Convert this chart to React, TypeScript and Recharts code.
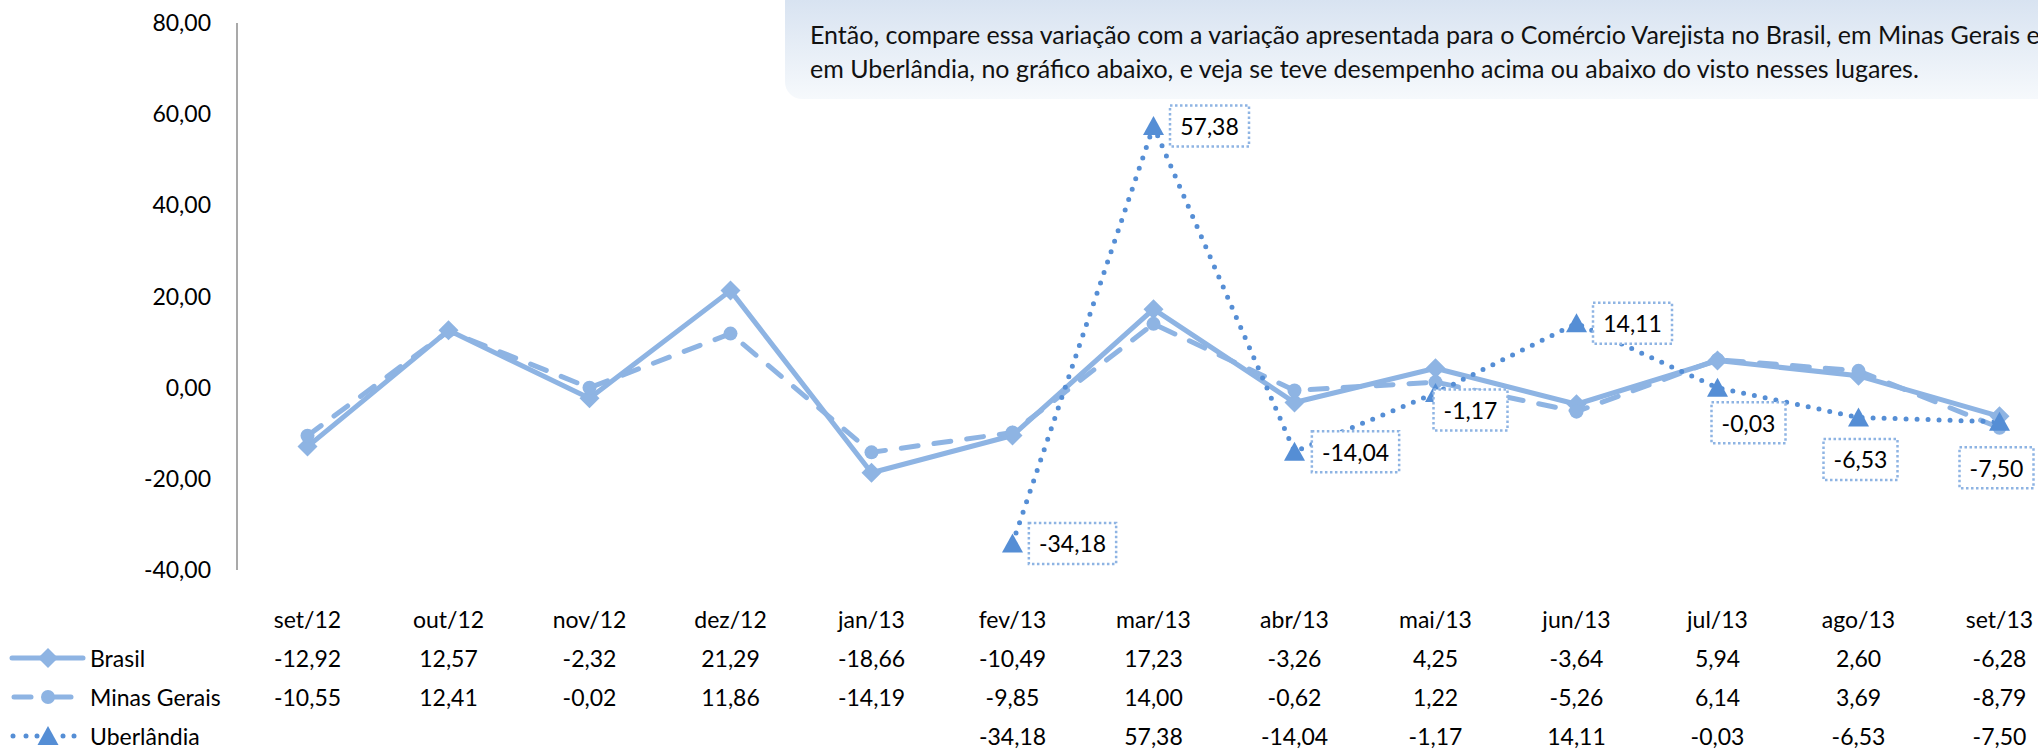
import React from 'react'
import { LineChart, Line, XAxis, YAxis, Legend, LabelList } from 'recharts'

const MONTHS = ['set/12', 'out/12', 'nov/12', 'dez/12', 'jan/13', 'fev/13', 'mar/13', 'abr/13', 'mai/13', 'jun/13', 'jul/13', 'ago/13', 'set/13']
const BRASIL = [-12.92, 12.57, -2.32, 21.29, -18.66, -10.49, 17.23, -3.26, 4.25, -3.64, 5.94, 2.6, -6.28]
const MINAS = [-10.55, 12.41, -0.02, 11.86, -14.19, -9.85, 14.0, -0.62, 1.22, -5.26, 6.14, 3.69, -8.79]
const UBERLANDIA = [null, null, null, null, null, -34.18, 57.38, -14.04, -1.17, 14.11, -0.03, -6.53, -7.5]
const Y_TICKS = [-40, -20, 0, 20, 40, 60, 80]

const NOTE = [
  'Então, compare essa variação com a variação apresentada para o Comércio Varejista no Brasil, em Minas Gerais e',
  'em Uberlândia, no gráfico abaixo, e veja se teve desempenho acima ou abaixo do visto nesses lugares.',
]

// where each Uberlândia label box sits, relative to its point (box centre)
const LABEL_OFFSETS: Record<number, [number, number]> = {
  5: [60, 0], 6: [56, 0], 7: [61, 0], 8: [35, 17], 9: [56, 0], 10: [31, 35], 11: [2, 42], 12: [-3, 46],
}

const LIGHT = '#8EB4E3'
const DARK = '#558ED5'
const FONT = 'Lato, "Open Sans", sans-serif'

const fmt = (v: number | null) => (v == null ? '' : v.toFixed(2).replace('.', ','))

const rows = MONTHS.map((m, i) => ({ month: m, brasil: BRASIL[i], minas: MINAS[i], uberlandia: UBERLANDIA[i] }))

const Diamond = (p: any) => {
  if (p.cx == null || p.cy == null || p.value == null) return <g key={p.key} />
  const { cx, cy } = p
  return <path key={p.key} d={`M${cx},${cy - 10} L${cx + 10},${cy} L${cx},${cy + 10} L${cx - 10},${cy} Z`} fill={LIGHT} />
}
const Circle = (p: any) => {
  if (p.cx == null || p.cy == null || p.value == null) return <g key={p.key} />
  return <circle key={p.key} cx={p.cx} cy={p.cy} r={7} fill={LIGHT} />
}
const Triangle = (p: any) => {
  if (p.cx == null || p.cy == null || p.value == null) return <g key={p.key} />
  const { cx, cy } = p
  return <path key={p.key} d={`M${cx},${cy - 10} L${cx + 10.5},${cy + 9} L${cx - 10.5},${cy + 9} Z`} fill={DARK} />
}

const textW = (s: string) => {
  let w = 0
  for (const c of s) w += c === ',' ? 5.8 : c === '-' ? 8.3 : 13.3
  return w
}

const BoxLabel = (p: any) => {
  const { x, y, value, index } = p
  if (value == null || x == null || y == null) return null
  const [dx, dy] = LABEL_OFFSETS[index] ?? [55, 0]
  const s = fmt(value)
  const w = textW(s) + 20
  const cx = x + dx
  const cy = y + dy
  return (
    <g>
      <rect x={cx - w / 2} y={cy - 20.5} width={w} height={41} fill="#fff" stroke={LIGHT} strokeWidth={2.5} strokeDasharray="2.5 2.5" />
      <text x={cx} y={cy} textAnchor="middle" dominantBaseline="central" fontSize={23} fontFamily={FONT} fill="#000">{s}</text>
    </g>
  )
}

const TableTick = (p: any) => {
  const { x, y, payload } = p
  const i = MONTHS.indexOf(payload.value)
  const t = (dy: number, s: string) => (
    <text x={x} y={y + dy} textAnchor="middle" dominantBaseline="central" fontSize={23} fontFamily={FONT} fill="#000">{s}</text>
  )
  return (
    <g>
      {t(49, MONTHS[i])}
      {t(88, fmt(BRASIL[i]))}
      {t(127, fmt(MINAS[i]))}
      {UBERLANDIA[i] != null && t(166, fmt(UBERLANDIA[i]))}
    </g>
  )
}

function LegendKeys() {
  const txt = (y: number, s: string) => (
    <text x={90} y={y} dominantBaseline="central" fontSize={23} fontFamily={FONT} fill="#000">{s}</text>
  )
  return (
    <svg width={240} height={150}>
      {/* Brasil */}
      <line x1={12} x2={83} y1={58} y2={58} stroke={LIGHT} strokeWidth={5} strokeLinecap="round" />
      <path d="M48,48 L58,58 L48,68 L38,58 Z" fill={LIGHT} />
      {txt(58, 'Brasil')}
      {/* Minas Gerais */}
      <line x1={14} x2={31} y1={97} y2={97} stroke={LIGHT} strokeWidth={5} strokeLinecap="round" />
      <line x1={55} x2={71} y1={97} y2={97} stroke={LIGHT} strokeWidth={5} strokeLinecap="round" />
      <circle cx={48} cy={97} r={7} fill={LIGHT} />
      {txt(97, 'Minas Gerais')}
      {/* Uberlândia */}
      {[13, 26, 37, 63, 74].map(cx => <circle key={cx} cx={cx} cy={136} r={2.5} fill={DARK} />)}
      <path d="M48,126 L58.5,145 L37.5,145 Z" fill={DARK} />
      {txt(136, 'Uberlândia')}
    </svg>
  )
}

export default function App() {
  return (
    <div style={{ position: 'fixed', left: 0, top: 0, width: 2038, height: 750, overflow: 'hidden', background: '#fff', fontFamily: FONT }}>
      <div style={{ position: 'absolute', left: 0, top: 0 }}>
        <LineChart width={2100} height={750} data={rows} margin={{ top: 23, right: 30, bottom: 30, left: 0 }}>
          <XAxis
            dataKey="month"
            interval={0}
            axisLine={false}
            tickLine={false}
            tickSize={0}
            tickMargin={0}
            height={150}
            padding={{ left: 70.5, right: 70.5 }}
            tick={<TableTick />}
          />
          <YAxis
            domain={[-40, 80]}
            ticks={Y_TICKS}
            width={237}
            tickLine={false}
            tickSize={0}
            tickMargin={26}
            axisLine={{ stroke: '#8c8c8c', strokeWidth: 1.5 }}
            tickFormatter={(v: number) => fmt(v)}
            tick={{ fontSize: 23, fill: '#000', fontFamily: FONT }}
          />
          <Legend layout="vertical" align="center" verticalAlign="middle" content={<LegendKeys />} wrapperStyle={{ left: 0, top: 600, width: 240, height: 150 }} />
          <Line dataKey="brasil" name="Brasil" stroke={LIGHT} strokeWidth={5} strokeLinejoin="round" dot={Diamond} activeDot={false} isAnimationActive={false} />
          <Line dataKey="minas" name="Minas Gerais" stroke={LIGHT} strokeWidth={5} strokeDasharray="17 16" strokeLinecap="round" dot={Circle} activeDot={false} isAnimationActive={false} />
          <Line dataKey="uberlandia" name="Uberlândia" stroke={DARK} strokeWidth={5} strokeDasharray="0 11" strokeLinecap="round" dot={Triangle} activeDot={false} isAnimationActive={false}>
            <LabelList dataKey="uberlandia" content={BoxLabel} />
          </Line>
        </LineChart>
      </div>

      {/* note box at the top right */}
      <div style={{ position: 'absolute', left: 785, top: 0, width: 1400, height: 99, borderRadius: '0 0 0 17px', background: 'linear-gradient(to bottom, #d8e3f1, #f6f9fc)' }} />
      <div style={{ position: 'absolute', left: 810, top: 17, fontSize: 25, lineHeight: '34px', whiteSpace: 'nowrap', color: '#111' }}>
        {NOTE[0]}<br />{NOTE[1]}
      </div>
    </div>
  )
}
